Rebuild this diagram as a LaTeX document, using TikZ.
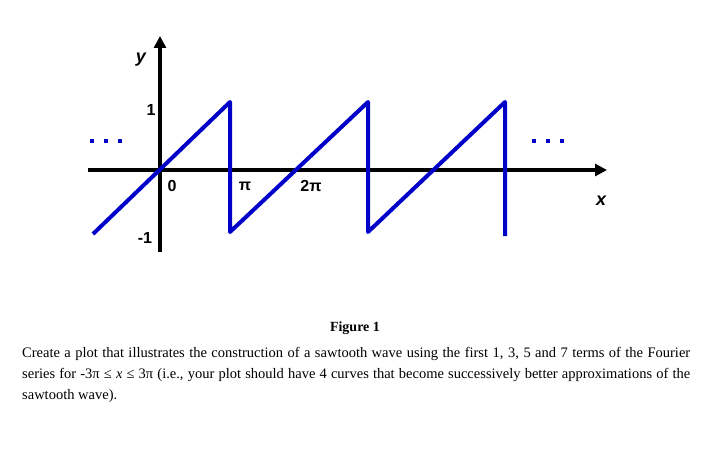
\documentclass[tikz,border=0pt]{standalone}
\usepackage{fontspec}
\setmainfont{Liberation Serif}
\setsansfont{Liberation Sans}
\usetikzlibrary{arrows.meta}
\definecolor{wave}{RGB}{0,0,200}
\begin{document}
\begin{tikzpicture}[x=1pt,y=-1pt,
  axis/.style={line width=3.5pt,-{Triangle[length=12pt,width=12pt]}},
  lab/.style={font=\sffamily\bfseries\fontsize{16}{16}\selectfont,inner sep=0pt},
  dotm/.style={fill=wave,minimum size=4.5pt,inner sep=0pt}]
\useasboundingbox (0,0) rectangle (710,460);
\coordinate (xs) at (88,170); \coordinate (xe) at (607,170);
\coordinate (ys) at (160,252); \coordinate (ye) at (160,36);
\draw[axis] (xs) -- (xe);
\draw[axis] (ys) -- (ye);
\coordinate (a) at (93,234); \coordinate (b) at (230,102); \coordinate (c) at (230,232);
\coordinate (d) at (368,102); \coordinate (e) at (368,232); \coordinate (f) at (505,102); \coordinate (g) at (505,236);
\draw[wave,line width=4pt,line join=round] (a)--(b)--(c)--(d)--(e)--(f)--(g);
\node[lab,font=\sffamily\bfseries\itshape\fontsize{18}{18}\selectfont] (ly) at (141,60) {y};
\node[lab] (l1) at (151,110) {1};
\node[lab] (lm1) at (145,238) {-1};
\node[lab] (l0) at (172,186) {0};
\node[lab] (lpi) at (245,186) {π};
\node[lab] (l2pi) at (311,186) {2π};
\node[lab,font=\sffamily\bfseries\itshape\fontsize{18}{18}\selectfont] (lx) at (601,201) {x};
\foreach \i/\xx in {1/92,2/106,3/120,4/534,5/548,6/562} \node[dotm] (dt\i) at (\xx,141) {};
\node[font=\bfseries\fontsize{14}{16}\selectfont] (cap) at (355,328) {Figure 1};
\node[anchor=north west,text width=668pt,align=justify,inner sep=0pt,font=\fontsize{14.5}{21}\selectfont] (para) at (22,347)
{Create a plot that illustrates the construction of a sawtooth wave using the first 1, 3, 5 and 7 terms of the Fourier series for -3π ≤ \textit{x} ≤ 3π (i.e., your plot should have 4 curves that become successively better approximations of the sawtooth wave).};
\end{tikzpicture}
\end{document}
